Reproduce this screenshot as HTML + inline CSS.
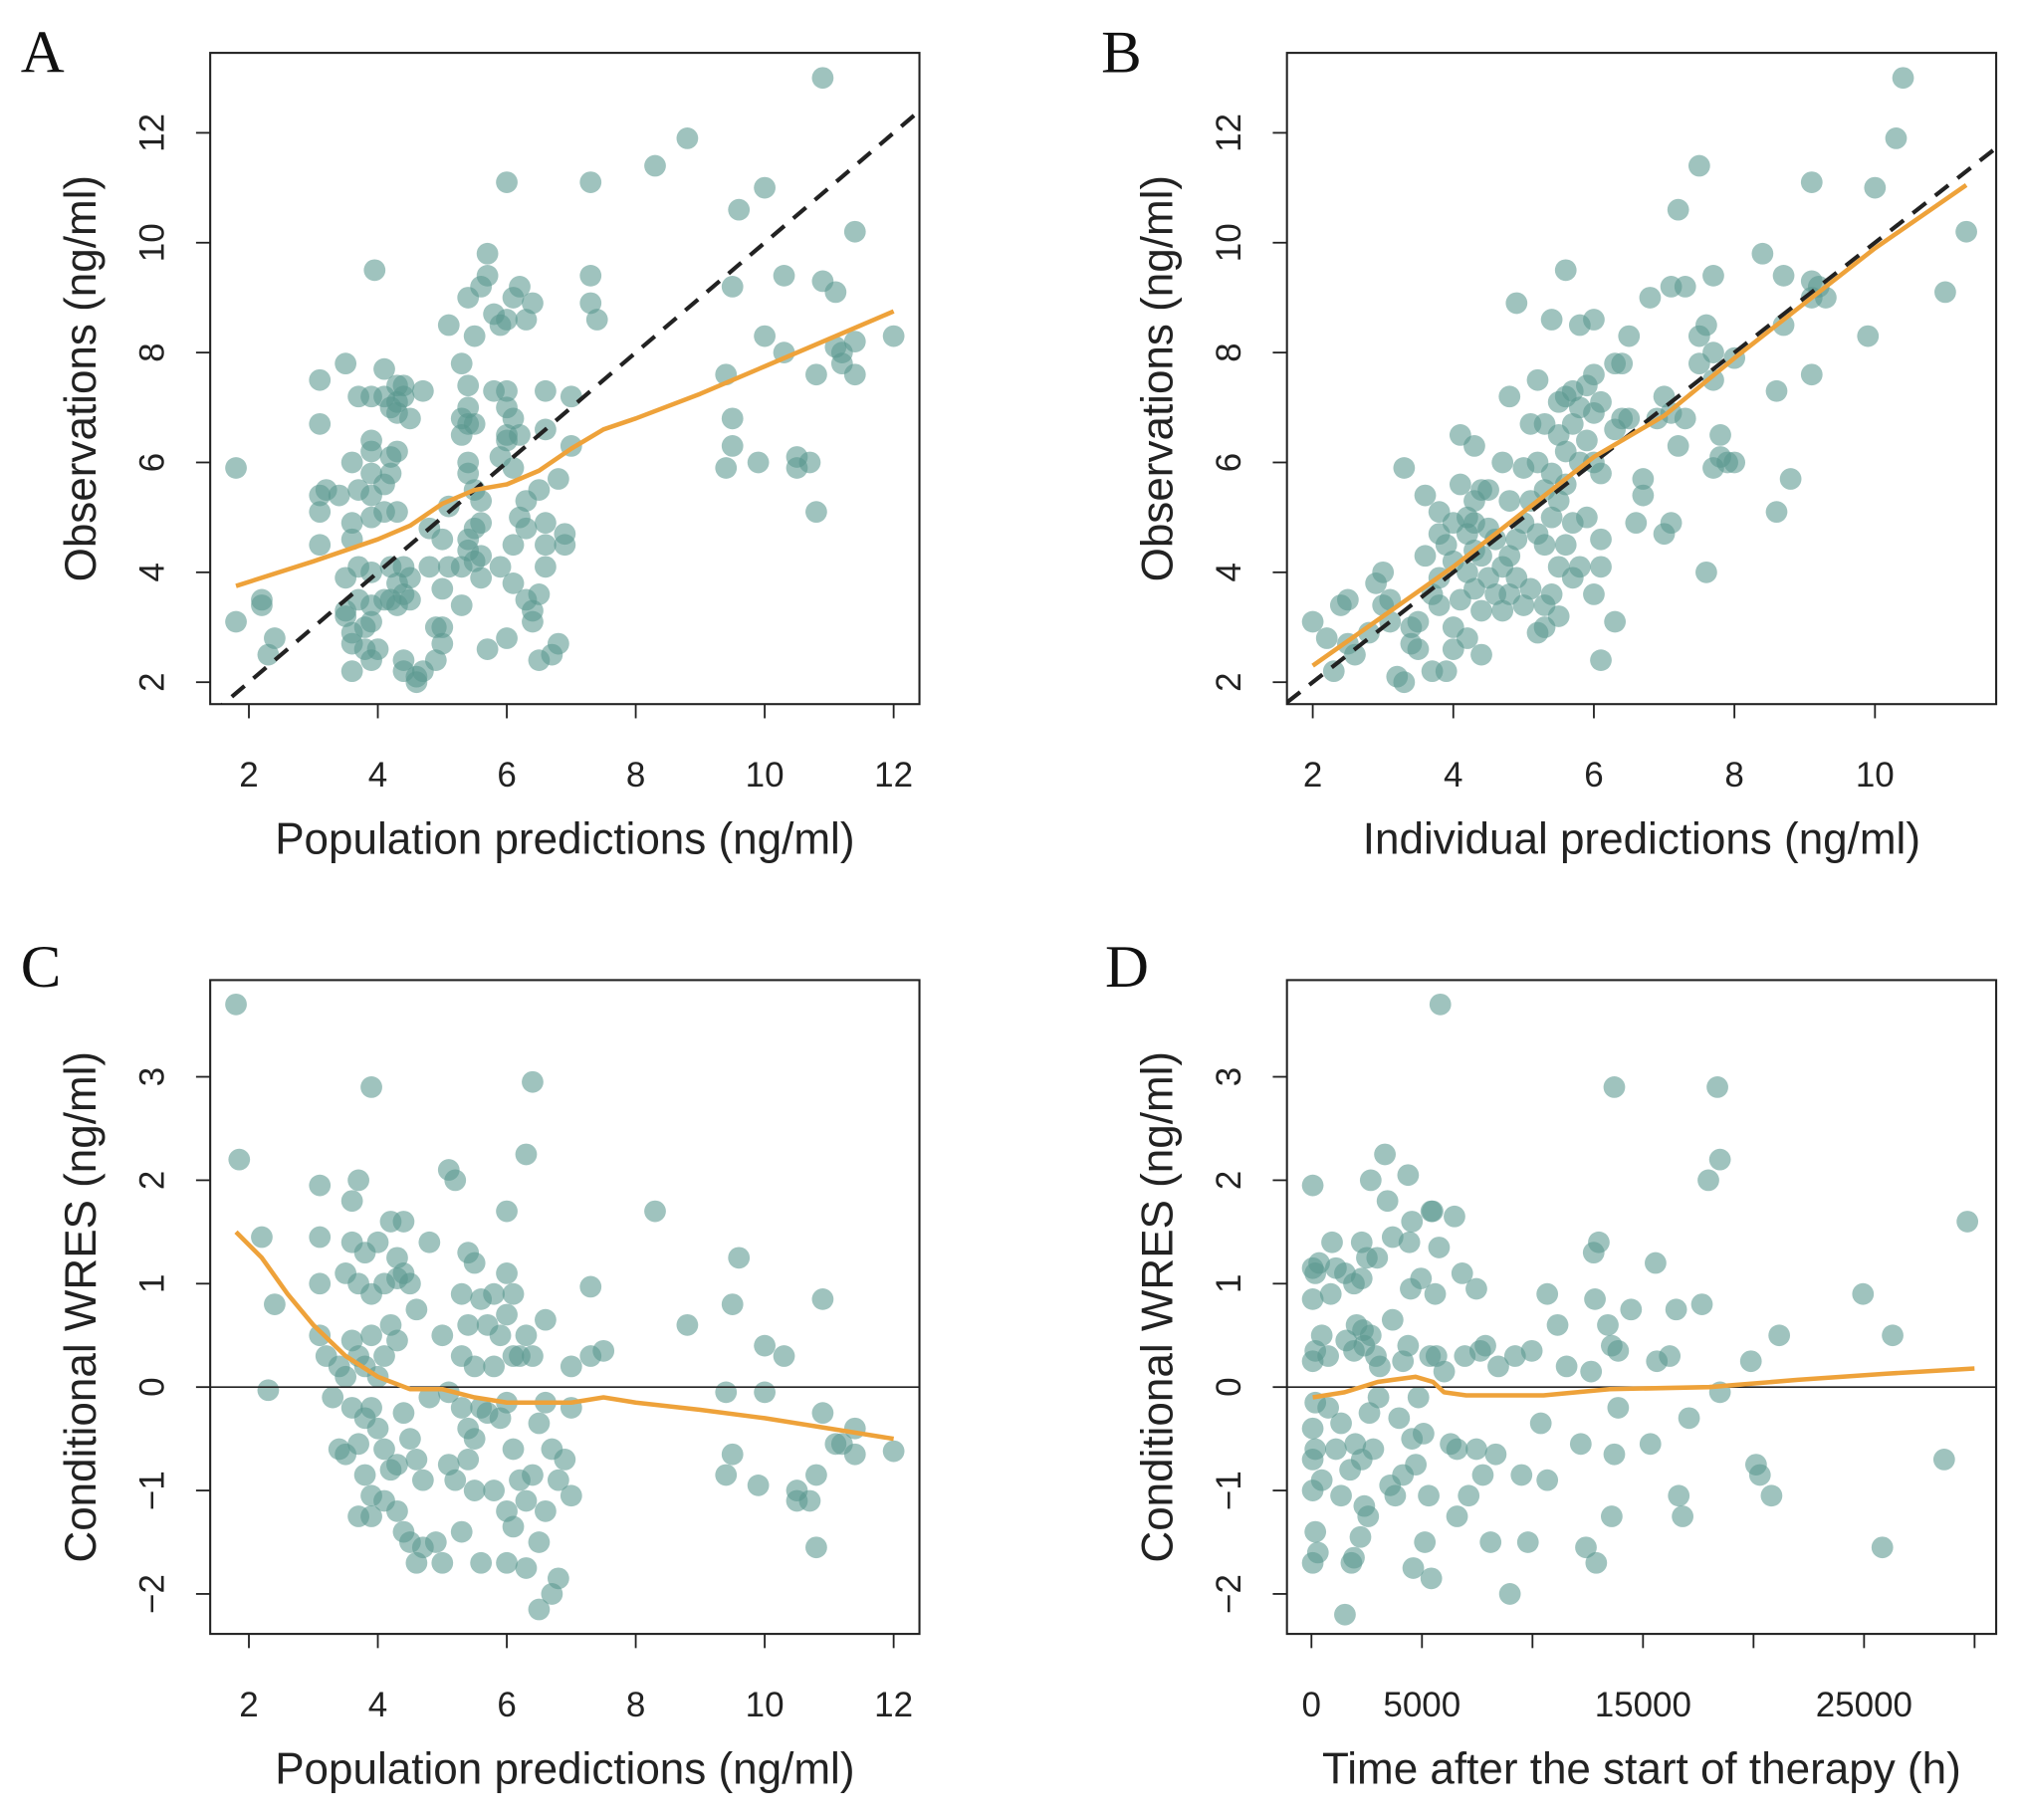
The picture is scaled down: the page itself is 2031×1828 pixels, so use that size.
<!DOCTYPE html>
<html><head><meta charset="utf-8">
<style>
html,body{margin:0;padding:0;background:#fff;}
svg{display:block;}
text{font-family:"Liberation Sans",sans-serif;fill:#222;}
.lett{font-family:"Liberation Serif",serif;font-size:47px;fill:#111;}
</style></head>
<body>
<svg id="fig" width="2031" height="1828" viewBox="0 0 1568 1411.3" xmlns="http://www.w3.org/2000/svg"></svg>
<script>
// ---- Panel A data (PRED vs DV) ----
const aPred=[1.8,1.8,2.2,2.2,2.3,2.4,3.1,3.1,3.1,3.1,3.1,3.2,3.4,3.5,3.6,3.6,3.6,3.5,3.5,3.5,3.6,3.6,3.6,3.7,3.7,3.7,3.7,3.8,3.8,3.9,3.9,3.9,3.9,3.9,3.9,3.9,3.9,3.9,3.9,3.95,4.0,4.1,4.1,4.1,4.1,4.1,4.2,4.2,4.2,4.2,4.2,4.3,4.3,4.3,4.3,4.3,4.3,4.3,4.4,4.4,4.4,4.4,4.4,4.4,4.5,4.5,4.5,4.6,4.6,4.7,4.7,4.8,4.8,4.9,4.9,5.0,5.0,5.0,5.0,5.1,5.1,5.1,5.3,5.3,5.3,5.3,5.3,5.4,5.4,5.4,5.4,5.4,5.4,5.4,5.4,5.5,5.5,5.5,5.5,5.5,5.6,5.6,5.6,5.6,5.6,5.7,5.7,5.7,5.8,5.8,5.9,5.9,5.9,6.0,6.0,6.0,6.0,6.0,6.0,6.0,6.1,6.1,6.1,6.1,6.1,6.2,6.2,6.2,6.3,6.3,6.3,6.3,6.4,6.4,6.4,6.5,6.5,6.5,6.6,6.6,6.6,6.6,6.6,6.7,6.8,6.8,6.9,6.9,7.0,7.0,7.3,7.3,7.3,7.4,8.3,8.8,9.4,9.4,9.5,9.5,9.5,9.6,9.9,10.0,10.0,10.3,10.3,10.5,10.5,10.7,10.8,10.8,10.9,10.9,11.1,11.1,11.2,11.2,11.4,11.4,11.4,12.0];
const aObs=[5.9,3.1,3.5,3.4,2.5,2.8,7.5,6.7,5.4,5.1,4.5,5.5,5.4,7.8,6.0,4.9,4.6,3.9,3.3,3.2,2.9,2.7,2.2,7.2,5.5,4.1,3.5,3.0,2.6,7.2,6.4,6.2,5.8,5.4,5.0,4.0,3.4,3.1,2.4,9.5,2.6,7.7,7.2,5.6,5.1,3.5,7.0,6.1,5.8,4.1,3.5,7.4,7.1,6.9,6.2,5.1,3.8,3.4,7.4,7.2,4.1,3.6,2.4,2.2,6.8,3.9,3.5,2.1,2.0,7.3,2.2,4.8,4.1,3.0,2.4,4.6,3.7,2.7,3.0,8.5,5.2,4.1,7.8,6.8,6.5,4.1,3.4,9.0,7.4,7.0,6.7,6.0,5.8,4.6,4.4,8.3,6.7,5.5,4.8,4.2,9.2,5.3,4.9,4.3,3.9,9.8,9.4,2.6,8.7,7.3,8.5,6.1,4.1,8.6,7.3,7.0,6.5,6.4,2.8,11.1,9.0,6.8,5.9,4.5,3.8,9.2,6.5,5.0,8.6,5.3,4.8,3.5,8.9,3.3,3.1,5.5,3.6,2.4,7.3,6.6,4.9,4.5,4.1,2.5,5.7,2.7,4.7,4.5,7.2,6.3,11.1,9.4,8.9,8.6,11.4,11.9,7.6,5.9,9.2,6.8,6.3,10.6,6.0,11.0,8.3,9.4,8.0,6.1,5.9,6.0,5.1,7.6,13.0,9.3,9.1,8.1,8.0,7.8,10.2,8.2,7.6,8.3];
const aLoessX=[1.8,3,4,4.5,5,5.5,6,6.5,7,7.5,8,9,10,11,12];
const aLoessY=[3.75,4.2,4.6,4.85,5.25,5.5,5.6,5.85,6.25,6.6,6.8,7.25,7.75,8.25,8.75];
// ---- Panel B data (IPRED vs DV) ----
const bIpred=[2.0,2.2,2.3,2.4,2.5,2.5,2.6,2.8,2.9,3.0,3.0,3.1,3.1,3.2,3.3,3.3,3.4,3.4,3.5,3.5,3.6,3.6,3.7,3.7,3.8,3.8,3.8,3.8,3.9,3.9,4.0,4.0,4.0,4.0,4.1,4.1,4.1,4.2,4.2,4.2,4.2,4.3,4.3,4.3,4.3,4.3,4.4,4.4,4.4,4.4,4.5,4.5,4.5,4.6,4.6,4.7,4.7,4.7,4.8,4.8,4.8,4.8,4.9,4.9,4.9,5.0,5.0,5.0,5.1,5.1,5.1,5.2,5.2,5.2,5.2,5.3,5.3,5.3,5.3,5.3,5.4,5.4,5.4,5.4,5.5,5.5,5.5,5.5,5.5,5.6,5.6,5.6,5.6,5.6,5.7,5.7,5.7,5.7,5.8,5.8,5.8,5.8,5.9,5.9,5.9,6.0,6.0,6.0,6.0,6.0,6.1,6.1,6.1,6.1,6.1,6.3,6.3,6.3,6.4,6.4,6.5,6.5,6.6,6.7,6.7,6.8,6.9,7.0,7.0,7.1,7.1,7.1,7.2,7.2,7.3,7.3,7.5,7.5,7.5,7.6,7.6,7.7,7.7,7.7,7.7,7.8,7.8,7.9,8.0,8.0,8.4,8.6,8.6,8.7,8.7,8.8,9.1,9.1,9.1,9.1,9.2,9.3,9.9,10.0,10.3,10.4,11.0,11.3];
const bObs=[3.1,2.8,2.2,3.4,3.5,2.7,2.5,2.9,3.8,4.0,3.4,3.5,3.1,2.1,2.0,5.9,3.0,2.7,3.1,2.6,5.4,4.3,3.6,2.2,5.1,4.7,3.9,3.4,4.5,2.2,4.9,4.2,3.0,2.6,6.5,5.6,3.5,5.0,4.7,4.0,2.8,6.3,5.3,4.9,4.4,3.7,5.5,4.3,3.3,2.5,5.5,4.8,3.9,4.6,3.6,6.0,4.1,3.3,7.2,5.3,4.3,3.6,8.9,4.6,3.9,5.9,4.9,3.4,6.7,5.3,3.7,7.5,6.0,4.7,2.9,6.7,5.5,4.5,3.4,3.0,8.6,5.8,5.0,3.6,7.1,6.5,5.3,4.1,3.2,9.5,7.2,6.2,5.6,4.5,7.3,6.7,4.9,3.9,8.5,7.0,6.0,4.1,7.4,6.4,5.0,8.6,7.6,6.9,6.0,3.6,7.1,5.8,4.6,4.1,2.4,7.8,6.6,3.1,7.8,6.8,8.3,6.8,4.9,5.7,5.4,9.0,6.8,7.2,4.7,9.2,6.9,4.9,10.6,6.3,9.2,6.8,11.4,8.3,7.8,8.5,4.0,9.4,8.0,7.5,5.9,6.5,6.1,6.0,7.9,6.0,9.8,7.3,5.1,9.4,8.5,5.7,11.1,9.3,9.0,7.6,9.2,9.0,8.3,11.0,11.9,13.0,9.1,10.2];
const bLoessX=[2,3,4,5,6,7,8,9,10,11.3];
const bLoessY=[2.3,3.2,4.1,5.1,6.1,6.85,7.9,8.9,9.9,11.05];
// ---- Panel C data (PRED vs CWRES) ----
const cPred=[1.8,1.85,2.2,2.3,2.4,3.1,3.1,3.1,3.1,3.2,3.3,3.4,3.4,3.5,3.5,3.5,3.6,3.6,3.6,3.6,3.7,3.7,3.7,3.7,3.7,3.8,3.8,3.8,3.8,3.9,3.9,3.9,3.9,3.9,3.9,4.0,4.0,4.0,4.1,4.1,4.1,4.1,4.2,4.2,4.2,4.3,4.3,4.3,4.3,4.3,4.4,4.4,4.4,4.4,4.5,4.5,4.5,4.6,4.6,4.6,4.7,4.7,4.8,4.8,4.9,5.0,5.0,5.1,5.1,5.1,5.2,5.2,5.3,5.3,5.3,5.3,5.4,5.4,5.4,5.4,5.5,5.5,5.5,5.5,5.6,5.6,5.6,5.7,5.7,5.8,5.8,5.8,5.9,5.9,6.0,6.0,6.0,6.0,6.0,6.0,6.1,6.1,6.1,6.1,6.2,6.2,6.3,6.3,6.3,6.3,6.4,6.4,6.4,6.5,6.5,6.5,6.6,6.6,6.6,6.7,6.7,6.8,6.8,6.9,7.0,7.0,7.0,7.3,7.3,7.5,8.3,8.8,9.4,9.4,9.5,9.5,9.6,9.9,10.0,10.0,10.3,10.5,10.5,10.7,10.8,10.8,10.9,10.9,11.1,11.2,11.4,11.4,12.0];
const cCwres=[3.7,2.2,1.45,-0.03,0.8,1.95,1.45,1.0,0.5,0.3,-0.1,0.2,-0.6,1.1,0.1,-0.65,1.8,1.4,0.45,-0.2,2.0,1.0,0.3,-0.55,-1.25,1.3,0.2,-0.3,-0.85,2.9,0.9,0.5,-0.2,-1.05,-1.25,1.4,0.1,-0.4,1.0,0.3,-0.6,-1.1,1.6,0.6,-0.8,1.25,1.05,0.45,-0.75,-1.2,1.6,1.1,-0.25,-1.4,1.0,-0.5,-1.5,0.75,-0.7,-1.7,-0.9,-1.55,1.4,-0.1,-1.5,0.5,-1.7,2.1,-0.05,-0.75,2.0,-0.9,0.9,0.3,-0.2,-1.4,1.3,0.6,-0.4,-0.7,1.2,0.2,-0.5,-1.0,0.85,-0.2,-1.7,0.6,-0.25,0.9,0.2,-1.0,0.5,-0.3,1.7,1.1,0.7,-0.15,-1.2,-1.7,0.9,0.3,-0.6,-1.35,0.3,-0.9,2.25,0.5,-1.1,-1.75,2.95,0.3,-0.85,-0.35,-1.5,-2.15,0.65,-0.15,-1.2,-0.6,-2.0,-0.9,-1.85,-0.7,0.2,-0.2,-1.05,0.3,0.97,0.35,1.7,0.6,-0.05,-0.85,0.8,-0.65,1.25,-0.95,0.4,-0.05,0.3,-1.0,-1.1,-1.1,-1.55,-0.85,0.85,-0.25,-0.55,-0.55,-0.4,-0.65,-0.62];
const cLoessX=[1.8,2.2,2.6,3,3.5,4,4.5,5,5.5,6,6.5,7,7.5,8,9,10,11,12];
const cLoessY=[1.5,1.25,0.9,0.6,0.3,0.1,-0.02,-0.02,-0.1,-0.15,-0.15,-0.15,-0.1,-0.15,-0.22,-0.3,-0.4,-0.5];
// ---- Panel D data (TIME vs CWRES) ----
const dTime=[58,58,175,58,175,58,175,58,175,58,58,175,58,292,350,467,467,758,875,758,933,1108,1108,1341,1516,1574,1341,1749,1808,1516,1924,2041,1924,1983,1924,2274,2274,2391,2391,2507,2332,2624,2566,2274,2216,2682,2682,2799,2974,2916,3032,3324,3440,3091,3557,3673,3965,3790,3673,4139,4139,4373,4489,4722,4431,4547,4373,4547,4606,4956,4839,5130,5364,5422,5305,5072,5422,5480,5655,5772,5830,5597,6005,6471,6296,6588,6588,6821,6938,7113,7462,7462,7637,7870,7754,8104,8337,8454,8978,9211,9503,9794,9969,10377,10669,10669,11135,11544,12185,12418,12651,12884,12768,13001,12826,13409,13584,13701,13876,13876,13584,14459,15334,15567,15626,16209,16500,16617,16792,17083,17666,17958,18366,18482,18482,19882,20115,20290,20814,21163,24952,25827,26293,28625,29675,13701];
const dCwres=[1.95,1.15,1.1,0.85,0.35,0.25,-0.15,-0.4,-0.6,-0.7,-1.0,-1.4,-1.7,-1.6,1.2,0.5,-0.9,0.3,0.9,-0.2,1.4,1.15,-0.6,-1.05,1.1,0.45,-0.35,-0.8,-1.7,-2.2,1.0,0.6,0.35,-0.55,-1.65,1.4,-0.7,0.4,-1.15,1.25,0.55,-0.25,-1.25,1.05,-1.45,0.5,2.0,-0.6,1.25,0.3,-0.1,2.25,1.8,0.2,-0.95,0.65,-0.3,-1.05,1.45,0.25,-0.85,2.05,0.95,-0.75,1.4,1.6,0.4,-0.5,-1.75,1.05,-0.1,-1.5,0.3,1.7,-1.05,-0.45,-1.85,1.7,0.3,1.35,3.7,0.9,0.15,1.65,-0.55,-0.6,-1.25,1.1,0.3,-1.05,0.95,-0.6,0.35,0.4,-0.85,-1.5,-0.65,0.2,-2.0,0.3,-0.85,-1.5,0.35,-0.35,-0.9,0.9,0.6,0.2,-0.55,-1.55,0.15,-1.7,1.3,1.4,0.85,0.6,0.4,-0.65,-0.2,0.35,-1.25,0.75,-0.55,1.2,0.25,0.3,0.75,-1.05,-1.25,-0.3,0.8,2.0,2.9,2.2,-0.05,0.25,-0.75,-0.85,-1.05,0.5,0.9,-1.55,0.5,-0.7,1.6,2.9];
const dLoessX=[58,1500,3000,4700,5500,6000,7000,10500,13500,18000,22000,26000,30000];
const dLoessY=[-0.1,-0.05,0.05,0.1,0.05,-0.05,-0.08,-0.08,-0.02,0,0.07,0.13,0.18];
// tick labels
const aTicks=[2,4,6,8,10,12];
const bXTicks=[2,4,6,8,10];
const obsTicks=[2,4,6,8,10,12];
const cwresTicks=[-2,-1,0,1,2,3];
const dTicks=[0,5000,10000,15000,20000,25000,30000];
const dTickLabels=["0","5000","","15000","","25000",""];

const NS="http://www.w3.org/2000/svg";
const svg=document.getElementById('fig');
function mk(tag,attrs,parent){const e=document.createElementNS(NS,tag);for(const k in attrs)e.setAttribute(k,attrs[k]);(parent||svg).appendChild(e);return e;}

function panel(o){
  const g=mk('g',{});
  
  
  const sx=v=>o.x0+(v-o.xmin)/(o.xmax-o.xmin)*(o.x1-o.x0);
  const sy=v=>o.y1-(v-o.ymin)/(o.ymax-o.ymin)*(o.y1-o.y0);
  const clip=mk('clipPath',{id:o.name+'-clip'},g);
  mk('rect',{x:o.x0,y:o.y0,width:o.x1-o.x0,height:o.y1-o.y0},clip);
  const pg=mk('g',{'clip-path':'url(#'+o.name+'-clip)'},g);
  for(let i=0;i<o.xs.length;i++){
    const c=mk('circle',{cx:sx(o.xs[i]),cy:sy(o.ys[i]),r:8.4,fill:'#5a978f','fill-opacity':0.58},pg);
    
    
  }
  if(o.identity){
    const l=mk('line',{x1:sx(o.xmin),y1:sy(o.xmin),x2:sx(o.xmax),y2:sy(o.xmax),stroke:'#222','stroke-width':3.2,'stroke-dasharray':'13 9'},pg);
    
    
  }
  if(o.zero){
    const l=mk('line',{x1:o.x0,y1:sy(0),x2:o.x1,y2:sy(0),stroke:'#222','stroke-width':1.3},pg);
    
    
  }
  const pts=o.lx.map((v,i)=>sx(v).toFixed(1)+','+sy(o.ly[i]).toFixed(1)).join(' ');
  const sm=mk('polyline',{points:pts,fill:'none',stroke:'#eea23a','stroke-width':3.5,'stroke-linejoin':'round'},pg);
  
  
  const box=mk('rect',{x:o.x0,y:o.y0,width:o.x1-o.x0,height:o.y1-o.y0,fill:'none',stroke:'#222','stroke-width':1.6},g);
  
  
  o.xt.forEach((v,i)=>{
    const x=sx(v);
    mk('line',{x1:x,y1:o.y1,x2:x,y2:o.y1+11,stroke:'#222','stroke-width':1.4},g);
    const lab=o.xtl?o.xtl[i]:String(v);
    if(lab){const t=mk('text',{x:x,y:o.y1+64,'text-anchor':'middle','font-size':27},g);t.textContent=lab;
      
      }
  });
  o.yt.forEach(v=>{
    const y=sy(v);
    mk('line',{x1:o.x0,y1:y,x2:o.x0-11,y2:y,stroke:'#222','stroke-width':1.4},g);
    const t=mk('text',{x:0,y:0,'text-anchor':'middle','font-size':27,transform:`translate(${o.x0-36},${y}) rotate(-90)`},g);
    t.textContent=(v<0?'\u2212'+Math.abs(v):String(v));
    
    
  });
  const xt=mk('text',{x:(o.x0+o.x1)/2,y:o.y1+116,'text-anchor':'middle','font-size':34},g);
  xt.textContent=o.xlab;
  
  
  const yt=mk('text',{x:0,y:0,'text-anchor':'middle','font-size':34,transform:`translate(${o.x0-89},${(o.y0+o.y1)/2}) rotate(-90)`},g);
  yt.textContent=o.ylab;
  
  
  const L=mk('text',{x:o.lx0,y:o.ly0,'class':'lett'},g);
  L.textContent=o.letter;
  
  
}
const yA={ymin:2-17/42.6,ymax:12+62/42.6};
panel({name:'panel-a',letter:'A',lx0:16,ly0:56,x0:163,x1:713,y0:41,y1:546,xmin:1.4,xmax:12.4,ymin:yA.ymin,ymax:yA.ymax,
  xs:aPred,ys:aObs,lx:aLoessX,ly:aLoessY,identity:true,xt:aTicks,yt:obsTicks,
  xlab:'Population  predictions (ng/ml)',ylab:'Observations (ng/ml)'});
panel({name:'panel-b',letter:'B',lx0:854,ly0:56,x0:998,x1:1548,y0:41,y1:546,xmin:2-20/54.5,xmax:10+94/54.5,ymin:yA.ymin,ymax:yA.ymax,
  xs:bIpred,ys:bObs,lx:bLoessX,ly:bLoessY,identity:true,xt:bXTicks,yt:obsTicks,
  xlab:'Individual  predictions (ng/ml)',ylab:'Observations (ng/ml)'});
panel({name:'panel-c',letter:'C',lx0:16,ly0:765,x0:163,x1:713,y0:760,y1:1267,xmin:1.4,xmax:12.4,ymin:-2-31/80.2,ymax:3+75/80.2,
  xs:cPred,ys:cCwres,lx:cLoessX,ly:cLoessY,zero:true,xt:aTicks,yt:cwresTicks,
  xlab:'Population predictions (ng/ml)',ylab:'Conditional WRES (ng/ml)'});
panel({name:'panel-d',letter:'D',lx0:857,ly0:765,x0:998,x1:1548,y0:760,y1:1267,xmin:-1108,xmax:30978,ymin:-2-31/80.2,ymax:3+75/80.2,
  xs:dTime,ys:dCwres,lx:dLoessX,ly:dLoessY,zero:true,xt:dTicks,xtl:dTickLabels,yt:cwresTicks,
  xlab:'Time after the start of therapy (h)',ylab:'Conditional WRES (ng/ml)'});
</script>
</body></html>
